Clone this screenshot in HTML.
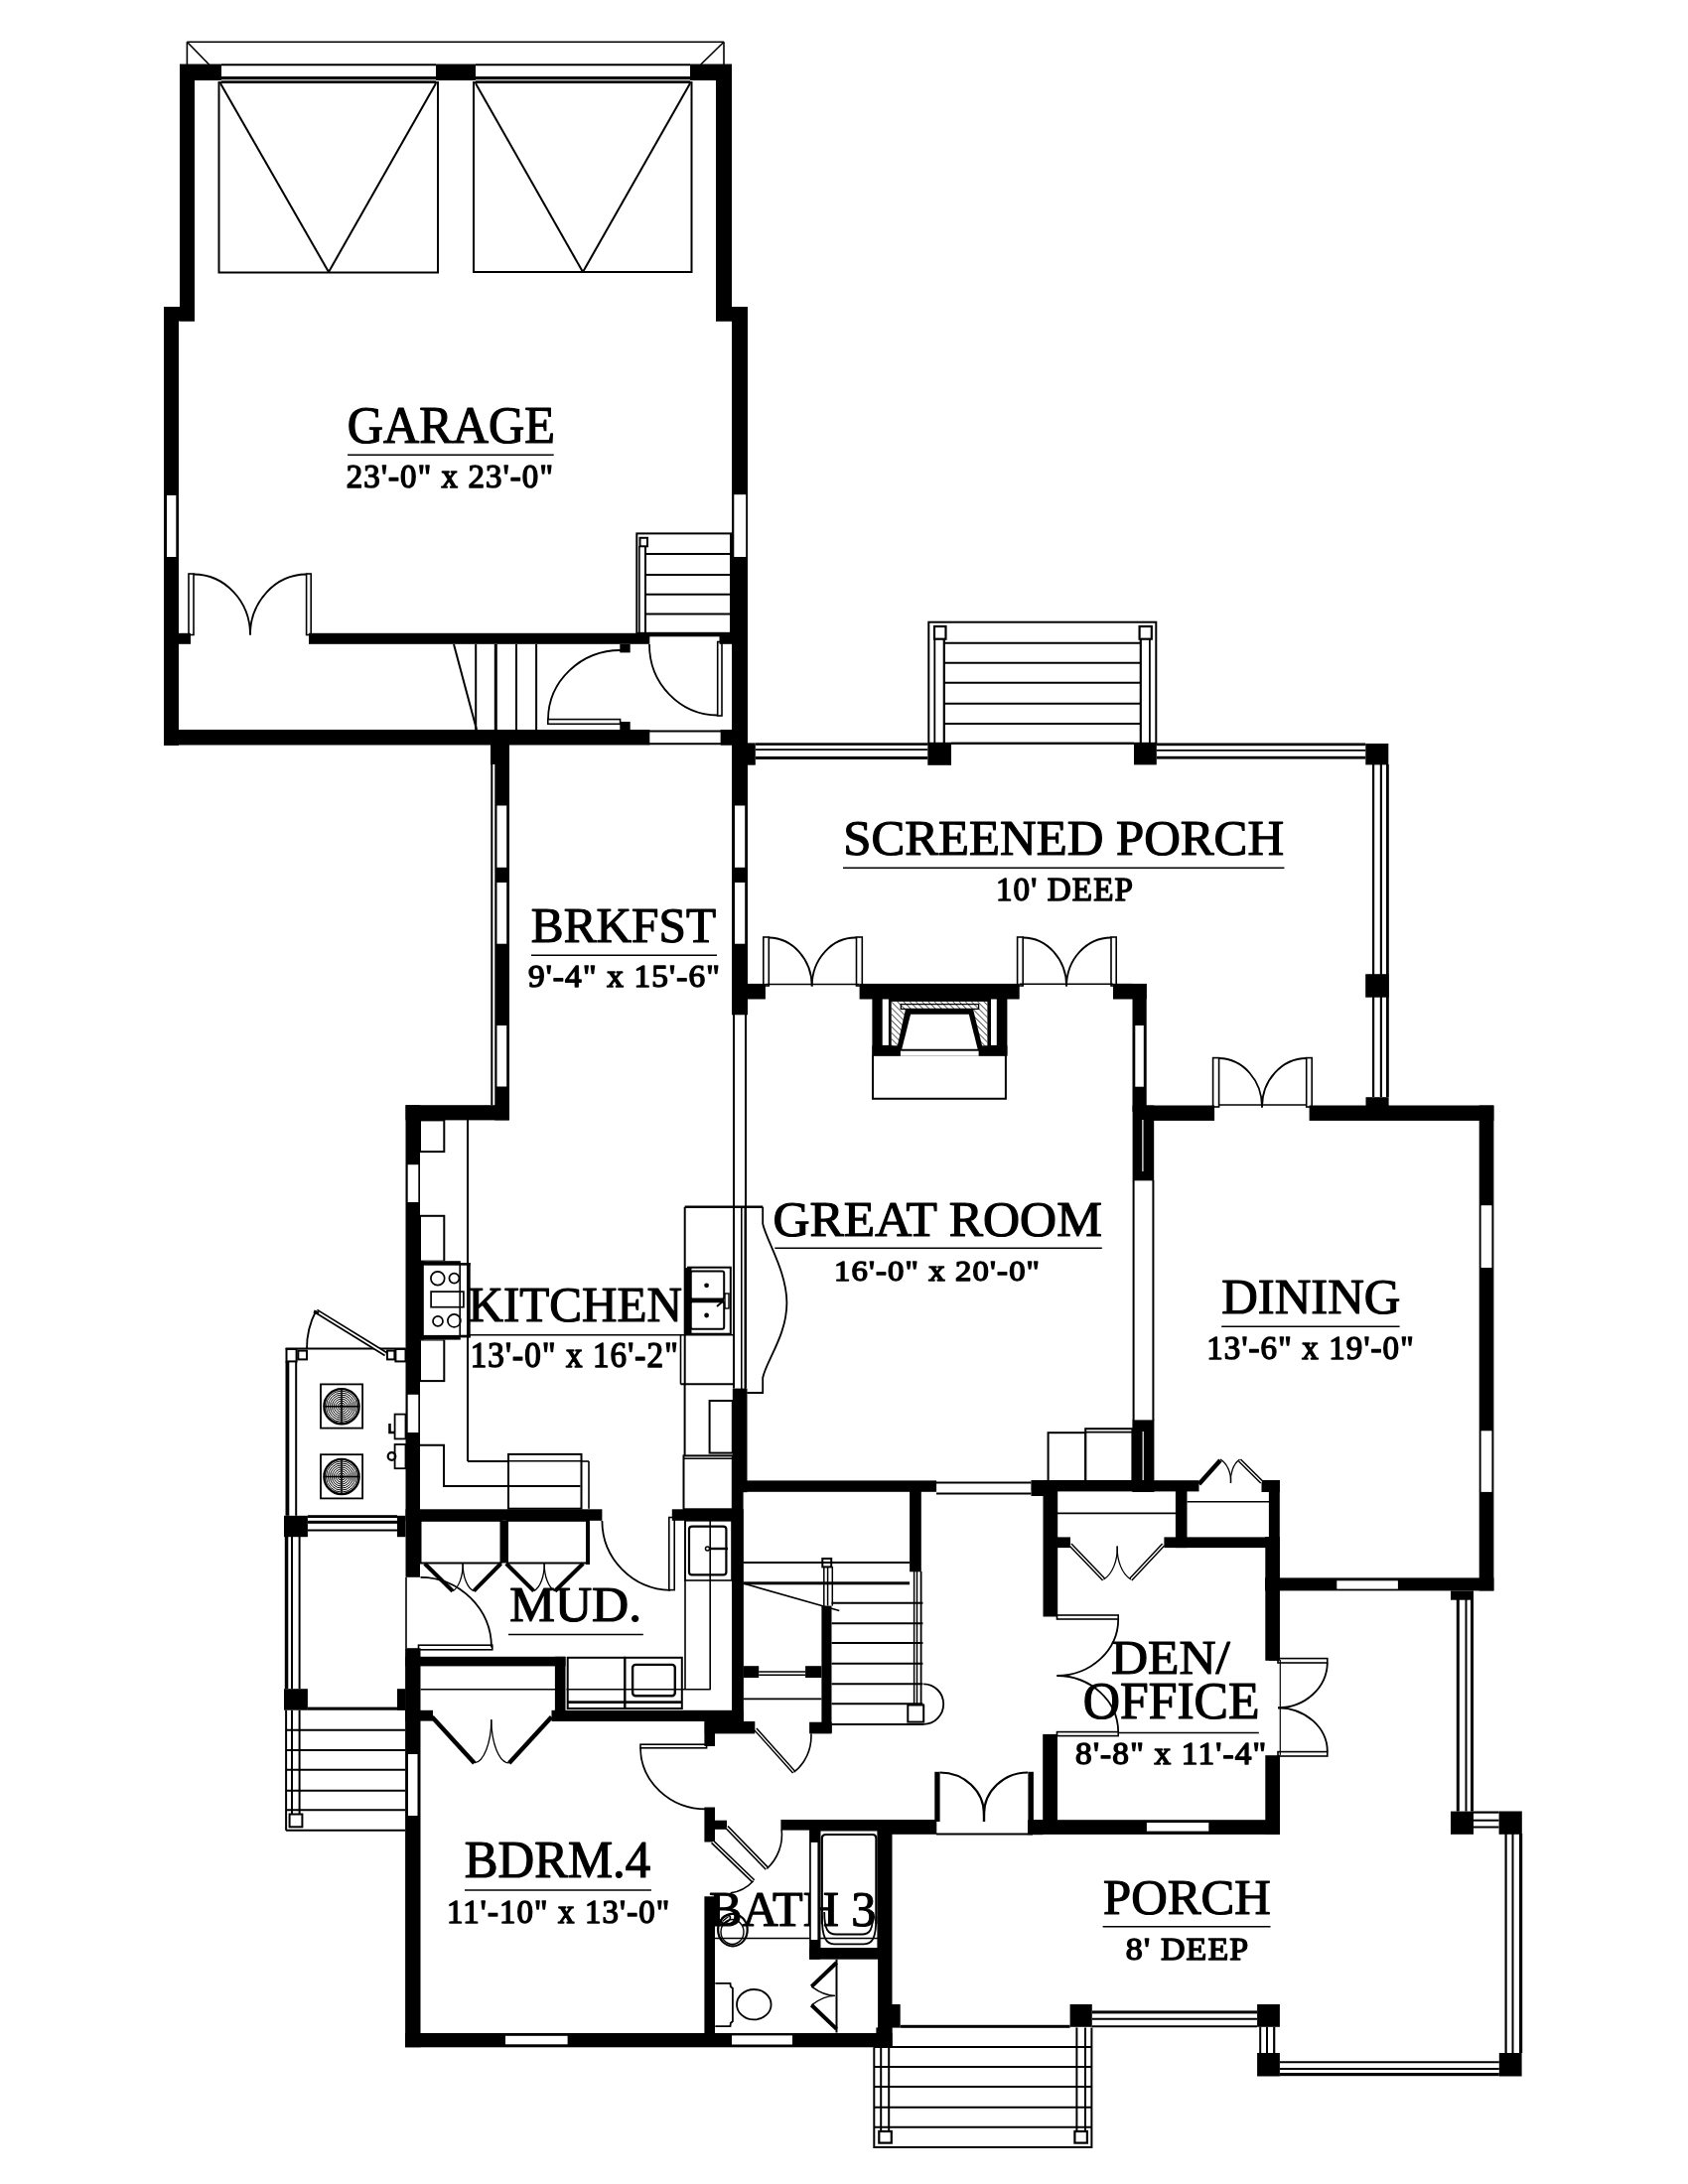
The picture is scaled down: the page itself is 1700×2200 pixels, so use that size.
<!DOCTYPE html>
<html><head><meta charset="utf-8"><title>Floor Plan</title>
<style>html,body{margin:0;padding:0;background:#fff;}svg{display:block;will-change:transform;}
text{font-family:"Liberation Serif",serif;fill:#000;}</style></head>
<body><svg width="1700" height="2200" viewBox="0 0 1700 2200" shape-rendering="auto">
<rect x="0" y="0" width="1700" height="2200" fill="#fff"/>
<line x1="188.4" y1="42.3" x2="729.0" y2="42.3" stroke="#000" stroke-width="1.6"/>
<line x1="188.4" y1="42.3" x2="188.4" y2="65.0" stroke="#000" stroke-width="1.6"/>
<line x1="729.0" y1="42.3" x2="729.0" y2="65.0" stroke="#000" stroke-width="1.6"/>
<line x1="188.4" y1="42.3" x2="210.6" y2="65.0" stroke="#000" stroke-width="1.6"/>
<line x1="729.0" y1="42.3" x2="705.7" y2="65.0" stroke="#000" stroke-width="1.6"/>
<line x1="223.0" y1="65.2" x2="439.0" y2="65.2" stroke="#000" stroke-width="2.0"/>
<line x1="479.0" y1="65.2" x2="695.0" y2="65.2" stroke="#000" stroke-width="2.0"/>
<rect x="223.0" y="77.0" width="216.0" height="3.2" fill="#000"/>
<rect x="223.0" y="81.3" width="216.0" height="2.7" fill="#000"/>
<rect x="479.0" y="77.0" width="216.0" height="3.2" fill="#000"/>
<rect x="479.0" y="81.3" width="216.0" height="2.7" fill="#000"/>
<rect x="181.0" y="64.5" width="42.0" height="16.5" fill="#000"/>
<rect x="695.0" y="64.5" width="42.0" height="16.5" fill="#000"/>
<rect x="439.0" y="64.5" width="40.0" height="16.5" fill="#000"/>
<rect x="220.5" y="83.0" width="220.5" height="191.5" rx="0" fill="none" stroke="#000" stroke-width="2"/>
<line x1="222.0" y1="84.0" x2="331.0" y2="274.0" stroke="#000" stroke-width="2"/>
<line x1="331.0" y1="274.0" x2="439.0" y2="84.0" stroke="#000" stroke-width="2"/>
<rect x="477.0" y="83.0" width="219.5" height="191.0" rx="0" fill="none" stroke="#000" stroke-width="2"/>
<line x1="479.0" y1="84.0" x2="587.0" y2="274.0" stroke="#000" stroke-width="2"/>
<line x1="587.0" y1="274.0" x2="695.0" y2="84.0" stroke="#000" stroke-width="2"/>
<rect x="181.0" y="65.0" width="15.0" height="258.5" fill="#000"/>
<rect x="165.0" y="309.0" width="31.0" height="14.5" fill="#000"/>
<rect x="165.0" y="309.0" width="15.0" height="442.0" fill="#000"/>
<rect x="168.0" y="499.0" width="9.3" height="62.0" fill="#fff"/>
<rect x="721.0" y="65.0" width="16.0" height="258.5" fill="#000"/>
<rect x="721.0" y="309.0" width="32.0" height="14.5" fill="#000"/>
<rect x="737.0" y="309.0" width="16.0" height="713.3" fill="#000"/>
<rect x="739.3" y="498.2" width="11.9" height="62.8" fill="#fff"/>
<rect x="165.0" y="735.0" width="489.3" height="15.5" fill="#000"/>
<line x1="654.0" y1="736.5" x2="726.0" y2="736.5" stroke="#000" stroke-width="2"/>
<line x1="654.0" y1="749.3" x2="726.0" y2="749.3" stroke="#000" stroke-width="2"/>
<rect x="725.8" y="735.0" width="11.7" height="15.5" fill="#000"/>
<rect x="180.0" y="637.8" width="12.0" height="11.0" fill="#000"/>
<rect x="311.0" y="637.8" width="343.3" height="11.0" fill="#000"/>
<rect x="654.0" y="637.8" width="72.0" height="3.5" fill="#000"/>
<rect x="724.5" y="637.8" width="12.5" height="11.0" fill="#000"/>
<rect x="190.0" y="578.0" width="5.0" height="61.5" rx="0" fill="none" stroke="#000" stroke-width="1.6"/>
<rect x="308.6" y="578.0" width="4.6" height="61.5" rx="0" fill="none" stroke="#000" stroke-width="1.6"/>
<path d="M195.0,578.5 A57.0,61.0 0 0 1 252.0,639.5" fill="none" stroke="#000" stroke-width="1.8"/>
<path d="M308.6,578.5 A57.0,61.0 0 0 0 252.0,639.5" fill="none" stroke="#000" stroke-width="1.8"/>
<rect x="641.3" y="537.4" width="94.7" height="100.4" rx="0" fill="none" stroke="#000" stroke-width="2"/>
<line x1="650.0" y1="557.9" x2="736.0" y2="557.9" stroke="#000" stroke-width="2"/>
<line x1="650.0" y1="579.1" x2="736.0" y2="579.1" stroke="#000" stroke-width="2"/>
<line x1="650.0" y1="598.7" x2="736.0" y2="598.7" stroke="#000" stroke-width="2"/>
<line x1="650.0" y1="618.6" x2="736.0" y2="618.6" stroke="#000" stroke-width="2"/>
<line x1="643.9" y1="550.0" x2="643.9" y2="637.8" stroke="#000" stroke-width="1.6"/>
<line x1="650.0" y1="550.0" x2="650.0" y2="637.8" stroke="#000" stroke-width="2"/>
<rect x="644.5" y="541.8" width="7.5" height="8.5" rx="0" fill="none" stroke="#000" stroke-width="2"/>
<line x1="479.2" y1="649.0" x2="479.2" y2="735.0" stroke="#000" stroke-width="2"/>
<line x1="520.0" y1="649.0" x2="520.0" y2="735.0" stroke="#000" stroke-width="2"/>
<line x1="540.1" y1="649.0" x2="540.1" y2="735.0" stroke="#000" stroke-width="2"/>
<line x1="499.3" y1="649.0" x2="499.3" y2="735.0" stroke="#000" stroke-width="3"/>
<line x1="457.0" y1="649.0" x2="480.0" y2="735.0" stroke="#000" stroke-width="2"/>
<rect x="624.3" y="648.8" width="10.4" height="8.6" fill="#000"/>
<rect x="624.3" y="727.0" width="10.4" height="8.0" fill="#000"/>
<rect x="551.8" y="724.6" width="72.8" height="4.7" rx="0" fill="none" stroke="#000" stroke-width="1.6"/>
<path d="M552.0,724.6 A73.0,70.0 0 0 1 625.0,655.0" fill="none" stroke="#000" stroke-width="1.8"/>
<rect x="722.7" y="646.5" width="4.3" height="74.5" rx="0" fill="none" stroke="#000" stroke-width="1.6"/>
<path d="M654.0,649.0 A69.0,71.0 0 0 0 722.7,720.5" fill="none" stroke="#000" stroke-width="1.8"/>
<rect x="494.0" y="750.0" width="19.0" height="20.0" fill="#000"/>
<rect x="498.3" y="750.0" width="14.7" height="378.4" fill="#000"/>
<line x1="495.3" y1="770.0" x2="495.3" y2="1113.2" stroke="#000" stroke-width="2"/>
<rect x="500.5" y="811.5" width="9.7" height="62.3" fill="#fff"/>
<rect x="500.5" y="889.0" width="9.7" height="61.7" fill="#fff"/>
<rect x="500.5" y="1033.0" width="9.7" height="61.5" fill="#fff"/>
<rect x="740.0" y="811.5" width="10.2" height="62.3" fill="#fff"/>
<rect x="740.0" y="889.0" width="10.2" height="61.7" fill="#fff"/>
<line x1="739.0" y1="1022.0" x2="739.0" y2="1398.6" stroke="#000" stroke-width="2"/>
<line x1="751.0" y1="1022.0" x2="751.0" y2="1398.6" stroke="#000" stroke-width="2"/>
<rect x="752.8" y="990.9" width="18.1" height="15.6" fill="#000"/>
<rect x="725.8" y="735.0" width="11.7" height="15.5" fill="#000"/>
<rect x="752.8" y="748.4" width="8.0" height="22.3" fill="#000"/>
<rect x="761.0" y="748.3" width="173.3" height="2.6" fill="#000"/>
<line x1="761.0" y1="755.2" x2="934.3" y2="755.2" stroke="#000" stroke-width="1.8"/>
<rect x="761.0" y="762.0" width="173.3" height="3.0" fill="#000"/>
<rect x="934.3" y="748.4" width="23.7" height="22.4" fill="#000"/>
<rect x="1142.0" y="749.0" width="22.8" height="21.4" fill="#000"/>
<rect x="1164.8" y="748.5" width="210.5" height="2.7" fill="#000"/>
<line x1="1164.8" y1="755.8" x2="1375.3" y2="755.8" stroke="#000" stroke-width="1.8"/>
<rect x="1164.8" y="761.8" width="210.5" height="2.8" fill="#000"/>
<rect x="1375.3" y="749.0" width="23.0" height="21.4" fill="#000"/>
<line x1="1383.1" y1="770.0" x2="1383.1" y2="1105.0" stroke="#000" stroke-width="2.2"/>
<line x1="1390.9" y1="770.0" x2="1390.9" y2="1105.0" stroke="#000" stroke-width="2.2"/>
<rect x="1396.0" y="770.0" width="2.8" height="335.0" fill="#000"/>
<rect x="1375.2" y="981.2" width="23.4" height="23.5" fill="#000"/>
<rect x="1375.5" y="1105.2" width="23.1" height="8.8" fill="#000"/>
<rect x="935.3" y="626.7" width="229.0" height="122.1" rx="0" fill="none" stroke="#000" stroke-width="2"/>
<line x1="950.8" y1="647.8" x2="1148.8" y2="647.8" stroke="#000" stroke-width="2"/>
<line x1="950.8" y1="667.8" x2="1148.8" y2="667.8" stroke="#000" stroke-width="2"/>
<line x1="950.8" y1="687.8" x2="1148.8" y2="687.8" stroke="#000" stroke-width="2"/>
<line x1="950.8" y1="708.8" x2="1148.8" y2="708.8" stroke="#000" stroke-width="2"/>
<line x1="950.8" y1="728.9" x2="1148.8" y2="728.9" stroke="#000" stroke-width="2"/>
<line x1="941.3" y1="644.0" x2="941.3" y2="748.8" stroke="#000" stroke-width="1.8"/>
<line x1="950.8" y1="644.0" x2="950.8" y2="748.8" stroke="#000" stroke-width="2.2"/>
<line x1="1148.8" y1="644.0" x2="1148.8" y2="748.8" stroke="#000" stroke-width="2.2"/>
<line x1="1157.9" y1="644.0" x2="1157.9" y2="748.8" stroke="#000" stroke-width="1.8"/>
<rect x="941.0" y="631.0" width="11.5" height="12.7" rx="0" fill="none" stroke="#000" stroke-width="2.2"/>
<rect x="1147.6" y="631.0" width="12.2" height="12.7" rx="0" fill="none" stroke="#000" stroke-width="2.2"/>
<line x1="958.0" y1="748.8" x2="1142.0" y2="748.8" stroke="#000" stroke-width="2"/>
<rect x="865.6" y="990.9" width="161.1" height="15.6" fill="#000"/>
<rect x="1121.0" y="990.9" width="19.5" height="12.1" fill="#000"/>
<rect x="1121.0" y="990.9" width="33.7" height="15.6" fill="#000"/>
<line x1="770.9" y1="991.6" x2="865.6" y2="991.6" stroke="#000" stroke-width="1.5"/>
<line x1="1026.7" y1="991.2" x2="1121.0" y2="991.2" stroke="#000" stroke-width="1.5"/>
<rect x="768.8" y="944.0" width="5.5" height="49.0" rx="0" fill="none" stroke="#000" stroke-width="1.6"/>
<rect x="862.5" y="944.0" width="5.8" height="49.0" rx="0" fill="none" stroke="#000" stroke-width="1.6"/>
<path d="M774.3,944.5 A44.0,49.0 0 0 1 817.7,993.5" fill="none" stroke="#000" stroke-width="1.8"/>
<path d="M862.5,944.5 A44.0,49.0 0 0 0 817.7,993.5" fill="none" stroke="#000" stroke-width="1.8"/>
<rect x="1024.6" y="944.0" width="5.6" height="49.0" rx="0" fill="none" stroke="#000" stroke-width="1.6"/>
<rect x="1119.0" y="944.0" width="5.2" height="49.0" rx="0" fill="none" stroke="#000" stroke-width="1.6"/>
<path d="M1030.2,944.5 A44.0,49.0 0 0 1 1074.1,993.5" fill="none" stroke="#000" stroke-width="1.8"/>
<path d="M1119.0,944.5 A45.0,49.0 0 0 0 1074.1,993.5" fill="none" stroke="#000" stroke-width="1.8"/>
<rect x="878.4" y="1006.0" width="136.0" height="57.6" fill="#000"/>
<rect x="888.7" y="1006.5" width="6.2" height="46.4" fill="#fff"/>
<rect x="998.0" y="1006.5" width="5.8" height="46.4" fill="#fff"/>
<rect x="897.7" y="1008.9" width="96.7" height="47.1" fill="#fff"/>
<defs><pattern id="hatch" patternUnits="userSpaceOnUse" width="4.4" height="4.4" patternTransform="rotate(-45)"><line x1="0" y1="0" x2="0" y2="4.4" stroke="#000" stroke-width="1.2"/></pattern></defs>
<rect x="897.7" y="1008.9" width="96.7" height="47.1" fill="url(#hatch)"/>
<rect x="907.3" y="1011.6" width="78.3" height="4.8" fill="none" stroke="#000" stroke-width="1.3"/>
<polygon points="903,1057 912,1016.5 980,1016.5 990,1057" fill="#000"/>
<polygon points="908.2,1057 917.1,1021.8 975.8,1021.8 984.7,1057" fill="#fff"/>
<line x1="906.0" y1="1057.8" x2="986.0" y2="1057.8" stroke="#000" stroke-width="2.2"/>
<rect x="878.4" y="1053.3" width="28.5" height="10.3" fill="#000"/>
<rect x="985.6" y="1053.3" width="28.8" height="10.3" fill="#000"/>
<rect x="906.9" y="1058.7" width="78.7" height="4.9" fill="#fff"/>
<path d="M879,1063 L879,1106.8 L1012.9,1106.8 L1012.9,1063" fill="none" stroke="#000" stroke-width="2"/>
<rect x="1140.5" y="991.0" width="14.2" height="129.0" fill="#000"/>
<rect x="1143.3" y="1033.0" width="8.5" height="61.7" fill="#fff"/>
<rect x="1140.6" y="1113.5" width="21.6" height="75.8" fill="#000"/>
<line x1="1150.9" y1="1128.0" x2="1150.9" y2="1180.0" stroke="#000" stroke-width="1.2"/>
<line x1="1150.9" y1="1128" x2="1150.9" y2="1180" stroke="#fff" stroke-width="1.2"/>
<line x1="1141.6" y1="1189.0" x2="1141.6" y2="1431.0" stroke="#000" stroke-width="2"/>
<line x1="1161.4" y1="1189.0" x2="1161.4" y2="1431.0" stroke="#000" stroke-width="2"/>
<rect x="1140.4" y="1430.4" width="22.0" height="72.6" fill="#000"/>
<line x1="1151.2" y1="1442" x2="1151.2" y2="1491" stroke="#fff" stroke-width="1.2"/>
<rect x="1055.6" y="1443.2" width="37.6" height="48.8" rx="0" fill="none" stroke="#000" stroke-width="2"/>
<rect x="1093.2" y="1439.2" width="47.2" height="52.8" rx="0" fill="none" stroke="#000" stroke-width="2"/>
<line x1="1093.2" y1="1442.6" x2="1140.4" y2="1442.6" stroke="#000" stroke-width="1.6"/>
<rect x="752.0" y="1491.4" width="191.1" height="11.4" fill="#000"/>
<line x1="943.0" y1="1493.5" x2="1038.5" y2="1493.5" stroke="#000" stroke-width="2"/>
<line x1="943.0" y1="1504.6" x2="1038.5" y2="1504.6" stroke="#000" stroke-width="2"/>
<rect x="1038.5" y="1491.2" width="23.5" height="15.8" fill="#000"/>
<rect x="1038.8" y="1491.2" width="168.7" height="11.2" fill="#000"/>
<rect x="737.8" y="1398.6" width="14.7" height="104.6" fill="#000"/>
<rect x="737.8" y="1490.0" width="10.8" height="245.0" fill="#000"/>
<rect x="1153.0" y="1113.5" width="70.1" height="15.4" fill="#000"/>
<rect x="1318.6" y="1113.5" width="185.8" height="15.4" fill="#000"/>
<rect x="1221.6" y="1065.6" width="6.0" height="49.4" rx="0" fill="none" stroke="#000" stroke-width="1.6"/>
<rect x="1315.7" y="1065.6" width="5.5" height="49.4" rx="0" fill="none" stroke="#000" stroke-width="1.6"/>
<line x1="1227.6" y1="1112.9" x2="1315.7" y2="1112.9" stroke="#000" stroke-width="1.5"/>
<path d="M1227.6,1066.0 A44.0,49.0 0 0 1 1271.0,1115.4" fill="none" stroke="#000" stroke-width="1.8"/>
<path d="M1315.7,1066.0 A45.0,49.0 0 0 0 1271.0,1115.4" fill="none" stroke="#000" stroke-width="1.8"/>
<rect x="1489.7" y="1113.5" width="14.7" height="488.9" fill="#000"/>
<rect x="1491.6" y="1214.2" width="10.8" height="62.8" fill="#fff"/>
<rect x="1491.6" y="1441.3" width="10.8" height="61.6" fill="#fff"/>
<rect x="1274.0" y="1589.4" width="230.4" height="13.0" fill="#000"/>
<rect x="1346.3" y="1592.3" width="61.6" height="8.3" fill="#fff"/>
<rect x="1270.5" y="1491.0" width="18.3" height="12.0" fill="#000"/>
<rect x="1277.9" y="1491.0" width="10.9" height="181.8" fill="#000"/>
<rect x="1274.3" y="1548.0" width="14.5" height="124.8" fill="#000"/>
<line x1="1195.5" y1="1512.8" x2="1278.0" y2="1512.8" stroke="#000" stroke-width="1.6"/>
<rect x="1183.9" y="1502.0" width="11.6" height="57.1" fill="#000"/>
<rect x="1172.4" y="1548.4" width="115.9" height="10.7" fill="#000"/>
<line x1="1207.5" y1="1495.0" x2="1229.0" y2="1471.0" stroke="#000" stroke-width="4.5"/>
<line x1="1248.5" y1="1471.0" x2="1270.7" y2="1493.0" stroke="#000" stroke-width="4.2"/>
<line x1="1248.5" y1="1471.0" x2="1270.7" y2="1493.0" stroke="#fff" stroke-width="1.3"/>
<path d="M1229.0,1470.0 A18.0,24.0 0 0 1 1239.5,1494.0" fill="none" stroke="#000" stroke-width="1.3"/>
<path d="M1248.5,1470.0 A18.0,24.0 0 0 0 1239.5,1494.0" fill="none" stroke="#000" stroke-width="1.3"/>
<rect x="1050.5" y="1491.0" width="14.7" height="137.5" fill="#000"/>
<line x1="1065.0" y1="1524.4" x2="1184.0" y2="1524.4" stroke="#000" stroke-width="1.6"/>
<rect x="1062.0" y="1548.4" width="16.0" height="10.7" fill="#000"/>
<line x1="1078.0" y1="1556.0" x2="1111.6" y2="1591.0" stroke="#000" stroke-width="4.2"/>
<line x1="1078.0" y1="1556.0" x2="1111.6" y2="1591.0" stroke="#fff" stroke-width="1.3"/>
<line x1="1138.8" y1="1591.0" x2="1171.6" y2="1556.0" stroke="#000" stroke-width="4.2"/>
<line x1="1138.8" y1="1591.0" x2="1171.6" y2="1556.0" stroke="#fff" stroke-width="1.3"/>
<path d="M1111.6,1591.0 A22.0,34.0 0 0 0 1125.2,1557.5" fill="none" stroke="#000" stroke-width="1.3"/>
<path d="M1138.8,1591.0 A22.0,34.0 0 0 1 1125.2,1557.5" fill="none" stroke="#000" stroke-width="1.3"/>
<rect x="1064.5" y="1627.0" width="61.7" height="4.0" rx="0" fill="none" stroke="#000" stroke-width="1.6"/>
<rect x="1064.5" y="1744.6" width="61.7" height="4.0" rx="0" fill="none" stroke="#000" stroke-width="1.6"/>
<path d="M1126.2,1631.0 A62.0,57.0 0 0 1 1064.5,1688.0" fill="none" stroke="#000" stroke-width="1.8"/>
<path d="M1126.2,1744.6 A62.0,57.0 0 0 0 1064.5,1688.0" fill="none" stroke="#000" stroke-width="1.8"/>
<rect x="1050.2" y="1746.9" width="14.8" height="100.1" fill="#000"/>
<rect x="1274.3" y="1768.2" width="14.7" height="79.6" fill="#000"/>
<rect x="1287.0" y="1670.6" width="49.8" height="4.4" rx="0" fill="none" stroke="#000" stroke-width="1.6"/>
<rect x="1287.0" y="1764.6" width="49.8" height="4.4" rx="0" fill="none" stroke="#000" stroke-width="1.6"/>
<path d="M1336.8,1675.0 A50.0,46.0 0 0 1 1287.0,1720.3" fill="none" stroke="#000" stroke-width="1.8"/>
<path d="M1336.8,1764.6 A50.0,44.0 0 0 0 1287.0,1720.3" fill="none" stroke="#000" stroke-width="1.8"/>
<line x1="1289.3" y1="1672.0" x2="1289.3" y2="1768.0" stroke="#000" stroke-width="1.2"/>
<rect x="1038.3" y="1833.2" width="250.7" height="14.7" fill="#000"/>
<rect x="1154.9" y="1836.0" width="62.4" height="8.6" fill="#fff"/>
<rect x="786.4" y="1833.0" width="97.6" height="10.6" fill="#000"/>
<rect x="884.0" y="1833.0" width="59.3" height="14.8" fill="#000"/>
<rect x="941.3" y="1784.8" width="5.3" height="50.2" fill="#000"/>
<rect x="1035.4" y="1784.8" width="5.5" height="50.2" fill="#000"/>
<path d="M946.6,1785.5 A44.4,42.0 0 0 1 991.0,1827.5" fill="none" stroke="#000" stroke-width="2.2"/>
<line x1="991.0" y1="1827.0" x2="991.0" y2="1835.0" stroke="#000" stroke-width="2.4"/>
<path d="M1035.2,1785.5 A44.2,42.0 0 0 0 991.0,1827.5" fill="none" stroke="#000" stroke-width="2.2"/>
<line x1="943.0" y1="1847.6" x2="1040.0" y2="1847.6" stroke="#000" stroke-width="2"/>
<rect x="1035.0" y="1833.4" width="15.6" height="14.8" fill="#000"/>
<rect x="916.1" y="1502.0" width="11.7" height="81.3" fill="#000"/>
<rect x="827.4" y="1617.6" width="10.1" height="128.0" fill="#000"/>
<line x1="748.6" y1="1574.1" x2="916.1" y2="1574.1" stroke="#000" stroke-width="2"/>
<rect x="748.6" y="1593.3" width="167.5" height="3.0" fill="#000"/>
<line x1="837.5" y1="1614.7" x2="929.4" y2="1614.7" stroke="#000" stroke-width="2"/>
<line x1="837.5" y1="1635.2" x2="929.4" y2="1635.2" stroke="#000" stroke-width="2"/>
<line x1="837.5" y1="1655.1" x2="929.4" y2="1655.1" stroke="#000" stroke-width="2"/>
<line x1="837.5" y1="1675.7" x2="929.4" y2="1675.7" stroke="#000" stroke-width="2"/>
<line x1="837.5" y1="1696.2" x2="929.4" y2="1696.2" stroke="#000" stroke-width="2"/>
<line x1="837.5" y1="1716.3" x2="929.4" y2="1716.3" stroke="#000" stroke-width="2"/>
<line x1="837.5" y1="1736.9" x2="930.4" y2="1736.9" stroke="#000" stroke-width="2"/>
<rect x="828.3" y="1570.0" width="8.9" height="8.4" rx="0" fill="none" stroke="#000" stroke-width="2"/>
<line x1="829.8" y1="1578.0" x2="829.8" y2="1617.6" stroke="#000" stroke-width="1.5"/>
<line x1="833.6" y1="1578.0" x2="833.6" y2="1617.6" stroke="#000" stroke-width="1.5"/>
<line x1="838.3" y1="1578.0" x2="838.3" y2="1617.6" stroke="#000" stroke-width="1.5"/>
<line x1="748.6" y1="1595.0" x2="845.3" y2="1622.4" stroke="#000" stroke-width="1.6"/>
<line x1="920.6" y1="1583.0" x2="920.6" y2="1717.0" stroke="#000" stroke-width="1.5"/>
<line x1="923.5" y1="1583.0" x2="923.5" y2="1717.0" stroke="#000" stroke-width="1.5"/>
<line x1="927.6" y1="1583.0" x2="927.6" y2="1717.0" stroke="#000" stroke-width="1.8"/>
<rect x="914.3" y="1717.5" width="15.9" height="17.1" rx="0" fill="none" stroke="#000" stroke-width="2"/>
<path d="M930.2,1696.3 A20,20.3 0 0 1 930.2,1736.9" fill="none" stroke="#000" stroke-width="1.8"/>
<rect x="748.6" y="1678.2" width="15.6" height="11.8" fill="#000"/>
<rect x="811.1" y="1678.2" width="16.3" height="11.8" fill="#000"/>
<line x1="764.2" y1="1684.0" x2="811.1" y2="1684.0" stroke="#000" stroke-width="1.5"/>
<line x1="764.2" y1="1687.3" x2="811.1" y2="1687.3" stroke="#000" stroke-width="1.5"/>
<line x1="748.6" y1="1711.4" x2="827.4" y2="1711.4" stroke="#000" stroke-width="1.6"/>
<rect x="815.6" y="1734.9" width="21.9" height="10.7" fill="#000"/>
<rect x="815.2" y="1734.8" width="22.3" height="11.6" fill="#000"/>
<rect x="709.8" y="1734.0" width="50.5" height="12.4" fill="#000"/>
<rect x="555.5" y="1722.8" width="193.1" height="11.2" fill="#000"/>
<line x1="760.9" y1="1742.0" x2="799.6" y2="1785.1" stroke="#000" stroke-width="4.2"/>
<line x1="760.9" y1="1742.0" x2="799.6" y2="1785.1" stroke="#fff" stroke-width="1.3"/>
<path d="M799.6,1785.1 A40.0,44.0 0 0 0 816.9,1746.4" fill="none" stroke="#000" stroke-width="1.6"/>
<rect x="408.5" y="1113.2" width="104.1" height="15.2" fill="#000"/>
<rect x="408.5" y="1113.2" width="14.5" height="475.6" fill="#000"/>
<rect x="410.7" y="1173.2" width="10.6" height="37.8" fill="#fff"/>
<rect x="410.7" y="1404.8" width="10.6" height="38.2" fill="#fff"/>
<line x1="471.0" y1="1128.0" x2="471.0" y2="1472.1" stroke="#000" stroke-width="2"/>
<line x1="471.0" y1="1472.1" x2="512.0" y2="1472.1" stroke="#000" stroke-width="2"/>
<rect x="423.0" y="1128.4" width="24.3" height="31.7" rx="0" fill="none" stroke="#000" stroke-width="2"/>
<rect x="423.0" y="1224.8" width="24.3" height="45.8" rx="0" fill="none" stroke="#000" stroke-width="2"/>
<rect x="423.0" y="1349.5" width="24.3" height="41.6" rx="0" fill="none" stroke="#000" stroke-width="2"/>
<path d="M423,1455.7 L447,1455.7 L447,1496.9 L584.5,1496.9" fill="none" stroke="#000" stroke-width="2"/>
<rect x="423.0" y="1270.2" width="47.0" height="79.4" fill="#fff"/>
<rect x="423.0" y="1270.2" width="40.8" height="4.5" fill="#000"/>
<rect x="423.0" y="1344.9" width="40.8" height="4.7" fill="#000"/>
<rect x="423.0" y="1270.2" width="3.8" height="79.4" fill="#000"/>
<line x1="463.2" y1="1272.0" x2="463.2" y2="1347.0" stroke="#000" stroke-width="1.6"/>
<rect x="463.8" y="1272.1" width="9.9" height="2.6" fill="#000"/>
<rect x="463.8" y="1344.7" width="9.9" height="2.7" fill="#000"/>
<rect x="471.0" y="1272.1" width="2.7" height="75.3" fill="#000"/>
<circle cx="440.8" cy="1287.8" r="6.9" fill="none" stroke="#000" stroke-width="1.7" />
<circle cx="457.4" cy="1287.6" r="5.0" fill="none" stroke="#000" stroke-width="1.7" />
<circle cx="441.0" cy="1330.9" r="5.0" fill="none" stroke="#000" stroke-width="1.7" />
<circle cx="457.4" cy="1330.4" r="6.5" fill="none" stroke="#000" stroke-width="1.7" />
<rect x="434.1" y="1301.1" width="32.8" height="15.6" rx="0" fill="none" stroke="#000" stroke-width="1.7"/>
<rect x="512.0" y="1464.9" width="73.5" height="54.8" rx="0" fill="none" stroke="#000" stroke-width="2"/>
<line x1="512.0" y1="1471.7" x2="585.5" y2="1471.7" stroke="#000" stroke-width="1.6"/>
<line x1="593.0" y1="1472.0" x2="593.0" y2="1519.7" stroke="#000" stroke-width="1.6"/>
<line x1="585.5" y1="1472.0" x2="593.0" y2="1472.0" stroke="#000" stroke-width="1.6"/>
<rect x="408.5" y="1520.3" width="197.9" height="11.5" fill="#000"/>
<rect x="676.8" y="1520.3" width="61.0" height="11.5" fill="#000"/>
<line x1="689.7" y1="1215.8" x2="768.2" y2="1215.8" stroke="#000" stroke-width="2.4"/>
<line x1="689.7" y1="1215.8" x2="689.7" y2="1394.3" stroke="#000" stroke-width="2"/>
<line x1="746.8" y1="1216.0" x2="746.8" y2="1403.0" stroke="#000" stroke-width="1.6"/>
<line x1="750.3" y1="1216.0" x2="750.3" y2="1403.0" stroke="#000" stroke-width="1.6"/>
<path d="M768.2,1215.8 L768.2,1232.7 C772,1250 792,1280 792.4,1311.9 C792.5,1345 772,1370 768.2,1387.7 L768.2,1403 L752.3,1403" fill="none" stroke="#000" stroke-width="1.8"/>
<line x1="472.5" y1="1344.8" x2="738.6" y2="1344.8" stroke="#000" stroke-width="1.6"/>
<line x1="685.5" y1="1344.8" x2="685.5" y2="1394.3" stroke="#000" stroke-width="1.6"/>
<line x1="685.5" y1="1394.3" x2="738.6" y2="1394.3" stroke="#000" stroke-width="2"/>
<rect x="693.0" y="1276.7" width="42.8" height="67.0" rx="0" fill="#fff" stroke="#000" stroke-width="2"/>
<rect x="695.5" y="1280.5" width="33.7" height="28.1" rx="2" fill="none" stroke="#000" stroke-width="2"/>
<rect x="695.5" y="1311.3" width="33.7" height="27.5" rx="2" fill="none" stroke="#000" stroke-width="2"/>
<rect x="689.0" y="1277.0" width="7.5" height="67.5" fill="#000"/>
<rect x="695.0" y="1308.5" width="34.2" height="2.8" fill="#000"/>
<circle cx="711.6" cy="1294.8" r="2.4" fill="#000" stroke="#000" stroke-width="0" />
<circle cx="711.6" cy="1325.0" r="2.4" fill="#000" stroke="#000" stroke-width="0" />
<rect x="730.0" y="1303.0" width="4.0" height="15.0" rx="0" fill="none" stroke="#000" stroke-width="1.4"/>
<line x1="722.0" y1="1316.0" x2="729.0" y2="1310.0" stroke="#000" stroke-width="2"/>
<line x1="689.6" y1="1394.3" x2="689.6" y2="1466.4" stroke="#000" stroke-width="2"/>
<rect x="714.6" y="1411.0" width="23.2" height="52.6" rx="0" fill="none" stroke="#000" stroke-width="2"/>
<rect x="688.5" y="1466.4" width="49.3" height="53.9" rx="0" fill="none" stroke="#000" stroke-width="2"/>
<line x1="688.5" y1="1469.3" x2="737.8" y2="1469.3" stroke="#000" stroke-width="1.5"/>
<rect x="423.5" y="1531.8" width="81.0" height="42.7" rx="0" fill="none" stroke="#000" stroke-width="2"/>
<rect x="511.0" y="1531.8" width="82.0" height="42.7" rx="0" fill="none" stroke="#000" stroke-width="2"/>
<rect x="504.5" y="1531.8" width="6.5" height="42.7" fill="#000"/>
<rect x="590.0" y="1531.8" width="4.0" height="44.2" fill="#000"/>
<line x1="427.7" y1="1575.0" x2="455.9" y2="1602.7" stroke="#000" stroke-width="4"/>
<line x1="477.2" y1="1602.7" x2="504.5" y2="1575.0" stroke="#000" stroke-width="4"/>
<path d="M455.9,1602.7 A14.0,28.0 0 0 0 466.1,1575.0" fill="none" stroke="#000" stroke-width="1.3"/>
<path d="M477.2,1602.7 A14.0,28.0 0 0 1 466.1,1575.0" fill="none" stroke="#000" stroke-width="1.3"/>
<line x1="509.8" y1="1575.0" x2="537.6" y2="1602.7" stroke="#000" stroke-width="4"/>
<line x1="558.9" y1="1602.7" x2="587.2" y2="1575.0" stroke="#000" stroke-width="4"/>
<path d="M537.6,1602.7 A14.0,28.0 0 0 0 548.2,1575.0" fill="none" stroke="#000" stroke-width="1.3"/>
<path d="M558.9,1602.7 A14.0,28.0 0 0 1 548.2,1575.0" fill="none" stroke="#000" stroke-width="1.3"/>
<rect x="673.8" y="1528.5" width="5.4" height="73.1" rx="0" fill="none" stroke="#000" stroke-width="1.6"/>
<path d="M606.4,1532.0 A70.0,70.0 0 0 0 675.1,1601.8" fill="none" stroke="#000" stroke-width="1.8"/>
<line x1="409.0" y1="1589.0" x2="409.0" y2="1660.2" stroke="#000" stroke-width="1.6"/>
<rect x="421.5" y="1657.2" width="74.3" height="4.6" rx="0" fill="none" stroke="#000" stroke-width="1.6"/>
<path d="M495.0,1659.5 A72.0,71.0 0 0 0 423.5,1588.8" fill="none" stroke="#000" stroke-width="1.8"/>
<rect x="408.1" y="1660.2" width="15.4" height="402.0" fill="#000"/>
<rect x="411.0" y="1767.0" width="9.5" height="62.0" fill="#fff"/>
<rect x="408.0" y="1668.8" width="161.5" height="9.6" fill="#000"/>
<rect x="558.9" y="1668.8" width="10.6" height="63.9" fill="#000"/>
<line x1="423.5" y1="1701.8" x2="559.0" y2="1701.8" stroke="#000" stroke-width="1.6"/>
<line x1="570.5" y1="1701.8" x2="715.6" y2="1701.8" stroke="#000" stroke-width="1.6"/>
<rect x="571.7" y="1669.8" width="57.6" height="51.2" rx="0" fill="none" stroke="#000" stroke-width="2"/>
<rect x="629.3" y="1669.8" width="57.5" height="51.2" rx="0" fill="none" stroke="#000" stroke-width="2"/>
<rect x="637.1" y="1676.9" width="42.7" height="31.3" rx="3" fill="none" stroke="#000" stroke-width="2.4"/>
<rect x="571.7" y="1713.3" width="115.1" height="2.7" fill="#000"/>
<line x1="690.0" y1="1531.8" x2="690.0" y2="1702.0" stroke="#000" stroke-width="1.6"/>
<line x1="715.2" y1="1531.8" x2="715.2" y2="1702.0" stroke="#000" stroke-width="1.6"/>
<rect x="694.0" y="1537.6" width="37.4" height="48.8" rx="3" fill="none" stroke="#000" stroke-width="2.2"/>
<rect x="690.0" y="1531.8" width="47.0" height="60.2" rx="0" fill="none" stroke="#000" stroke-width="1.6"/>
<circle cx="712.5" cy="1560.0" r="2.0" fill="none" stroke="#000" stroke-width="1.5" />
<line x1="714.0" y1="1560.0" x2="733.0" y2="1560.0" stroke="#000" stroke-width="2.4"/>
<rect x="737.0" y="1520.3" width="11.7" height="216.7" fill="#000"/>
<rect x="408.0" y="1722.8" width="28.0" height="10.8" fill="#000"/>
<line x1="435.1" y1="1729.5" x2="477.7" y2="1775.9" stroke="#000" stroke-width="4.5"/>
<line x1="512.8" y1="1775.9" x2="555.5" y2="1729.5" stroke="#000" stroke-width="4.5"/>
<path d="M477.7,1775.9 A18.0,44.0 0 0 0 494.8,1732.3" fill="none" stroke="#000" stroke-width="1.3"/>
<path d="M512.8,1775.9 A18.0,44.0 0 0 1 494.8,1732.3" fill="none" stroke="#000" stroke-width="1.3"/>
<line x1="287.6" y1="1358.5" x2="408.5" y2="1358.5" stroke="#000" stroke-width="2"/>
<rect x="288.5" y="1359.0" width="10.1" height="12.4" rx="0" fill="none" stroke="#000" stroke-width="2"/>
<rect x="300.3" y="1360.6" width="8.7" height="8.8" rx="0" fill="none" stroke="#000" stroke-width="2"/>
<rect x="390.0" y="1360.6" width="7.4" height="8.8" rx="0" fill="none" stroke="#000" stroke-width="2"/>
<rect x="398.4" y="1359.0" width="10.1" height="12.4" rx="0" fill="none" stroke="#000" stroke-width="2"/>
<rect x="287.5" y="1371.4" width="3.8" height="155.4" fill="#000"/>
<line x1="298.2" y1="1371.4" x2="298.2" y2="1526.8" stroke="#000" stroke-width="2"/>
<line x1="318.5" y1="1320.8" x2="388.5" y2="1364.0" stroke="#000" stroke-width="5.0"/>
<line x1="318.5" y1="1320.8" x2="388.5" y2="1364.0" stroke="#fff" stroke-width="1.6"/>
<path d="M309.0,1359.0 A81.0,81.0 0 0 1 318.2,1320.5" fill="none" stroke="#000" stroke-width="1.8"/>
<line x1="316.0" y1="1321.0" x2="321.0" y2="1323.0" stroke="#000" stroke-width="3"/>
<rect x="323.0" y="1394.4" width="42.1" height="44.2" rx="0" fill="none" stroke="#000" stroke-width="1.8"/>
<circle cx="344.0" cy="1416.7" r="17.6" fill="none" stroke="#000" stroke-width="2.4" />
<circle cx="344.0" cy="1416.7" r="15.6" fill="none" stroke="#000" stroke-width="1.0" />
<circle cx="344.0" cy="1416.7" r="13.6" fill="none" stroke="#000" stroke-width="1.0" />
<circle cx="344.0" cy="1416.7" r="11.6" fill="none" stroke="#000" stroke-width="1.0" />
<circle cx="344.0" cy="1416.7" r="9.6" fill="none" stroke="#000" stroke-width="1.0" />
<circle cx="344.0" cy="1416.7" r="7.6" fill="none" stroke="#000" stroke-width="1.0" />
<circle cx="344.0" cy="1416.7" r="5.6" fill="none" stroke="#000" stroke-width="1.0" />
<circle cx="344.0" cy="1416.7" r="3.6" fill="none" stroke="#000" stroke-width="1.0" />
<circle cx="344.0" cy="1416.7" r="1.8" fill="none" stroke="#000" stroke-width="1.0" />
<line x1="326.0" y1="1416.7" x2="362.0" y2="1416.7" stroke="#000" stroke-width="1.6"/>
<line x1="344.0" y1="1398.2" x2="344.0" y2="1435.2" stroke="#000" stroke-width="1.5"/>
<rect x="323.0" y="1465.2" width="42.1" height="44.2" rx="0" fill="none" stroke="#000" stroke-width="1.8"/>
<circle cx="344.0" cy="1487.5" r="17.6" fill="none" stroke="#000" stroke-width="2.4" />
<circle cx="344.0" cy="1487.5" r="15.6" fill="none" stroke="#000" stroke-width="1.0" />
<circle cx="344.0" cy="1487.5" r="13.6" fill="none" stroke="#000" stroke-width="1.0" />
<circle cx="344.0" cy="1487.5" r="11.6" fill="none" stroke="#000" stroke-width="1.0" />
<circle cx="344.0" cy="1487.5" r="9.6" fill="none" stroke="#000" stroke-width="1.0" />
<circle cx="344.0" cy="1487.5" r="7.6" fill="none" stroke="#000" stroke-width="1.0" />
<circle cx="344.0" cy="1487.5" r="5.6" fill="none" stroke="#000" stroke-width="1.0" />
<circle cx="344.0" cy="1487.5" r="3.6" fill="none" stroke="#000" stroke-width="1.0" />
<circle cx="344.0" cy="1487.5" r="1.8" fill="none" stroke="#000" stroke-width="1.0" />
<line x1="326.0" y1="1487.5" x2="362.0" y2="1487.5" stroke="#000" stroke-width="1.6"/>
<line x1="344.0" y1="1469.0" x2="344.0" y2="1506.0" stroke="#000" stroke-width="1.5"/>
<rect x="397.6" y="1424.6" width="10.9" height="24.8" rx="0" fill="none" stroke="#000" stroke-width="1.8"/>
<rect x="397.6" y="1455.0" width="10.9" height="24.2" rx="0" fill="none" stroke="#000" stroke-width="1.8"/>
<path d="M397.6,1443 L392.5,1443 L392.5,1434" fill="none" stroke="#000" stroke-width="2.6"/>
<circle cx="394.5" cy="1467.0" r="3.8" fill="none" stroke="#000" stroke-width="2.2" />
<rect x="286.0" y="1526.8" width="23.9" height="21.4" fill="#000"/>
<rect x="400.0" y="1526.8" width="8.5" height="21.4" fill="#000"/>
<rect x="309.9" y="1526.2" width="90.1" height="2.8" fill="#000"/>
<rect x="309.9" y="1531.8" width="90.1" height="3.0" fill="#000"/>
<line x1="309.9" y1="1541.6" x2="400.0" y2="1541.6" stroke="#000" stroke-width="2"/>
<rect x="286.8" y="1548.0" width="3.5" height="153.2" fill="#000"/>
<line x1="294.0" y1="1548.0" x2="294.0" y2="1701.2" stroke="#000" stroke-width="2"/>
<line x1="301.6" y1="1548.0" x2="301.6" y2="1701.2" stroke="#000" stroke-width="2"/>
<rect x="286.0" y="1701.2" width="23.9" height="21.5" fill="#000"/>
<rect x="400.0" y="1701.2" width="8.5" height="21.5" fill="#000"/>
<rect x="309.9" y="1719.6" width="98.1" height="3.1" fill="#000"/>
<line x1="288.0" y1="1742.8" x2="408.0" y2="1742.8" stroke="#000" stroke-width="2"/>
<line x1="288.0" y1="1763.0" x2="408.0" y2="1763.0" stroke="#000" stroke-width="2"/>
<line x1="288.0" y1="1782.8" x2="408.0" y2="1782.8" stroke="#000" stroke-width="2"/>
<line x1="288.0" y1="1803.7" x2="408.0" y2="1803.7" stroke="#000" stroke-width="2"/>
<line x1="288.0" y1="1823.2" x2="408.0" y2="1823.2" stroke="#000" stroke-width="2"/>
<line x1="288.0" y1="1843.8" x2="408.0" y2="1843.8" stroke="#000" stroke-width="2"/>
<line x1="288.1" y1="1722.7" x2="288.1" y2="1843.8" stroke="#000" stroke-width="2"/>
<line x1="294.0" y1="1722.7" x2="294.0" y2="1827.3" stroke="#000" stroke-width="2"/>
<line x1="301.6" y1="1722.7" x2="301.6" y2="1827.3" stroke="#000" stroke-width="2"/>
<rect x="291.6" y="1827.5" width="12.8" height="12.8" rx="0" fill="none" stroke="#000" stroke-width="2"/>
<rect x="408.0" y="2048.0" width="490.5" height="14.3" fill="#000"/>
<rect x="509.0" y="2050.8" width="62.6" height="8.5" fill="#fff"/>
<rect x="737.0" y="2050.4" width="61.0" height="9.1" fill="#fff"/>
<rect x="709.4" y="1734.0" width="10.6" height="25.0" fill="#000"/>
<rect x="709.4" y="1820.5" width="10.6" height="35.0" fill="#000"/>
<rect x="709.4" y="1910.3" width="10.6" height="151.7" fill="#000"/>
<rect x="645.0" y="1757.2" width="66.6" height="3.6" rx="0" fill="none" stroke="#000" stroke-width="1.6"/>
<path d="M645.0,1760.5 A66.5,62.0 0 0 0 711.6,1822.4" fill="none" stroke="#000" stroke-width="1.8"/>
<rect x="720.0" y="1833.7" width="12.0" height="9.1" fill="#000"/>
<line x1="731.9" y1="1840.5" x2="772.4" y2="1882.2" stroke="#000" stroke-width="4.6"/>
<line x1="731.9" y1="1840.5" x2="772.4" y2="1882.2" stroke="#fff" stroke-width="1.3"/>
<path d="M772.4,1882.3 A45.0,46.0 0 0 0 787.2,1842.8" fill="none" stroke="#000" stroke-width="1.6"/>
<line x1="717.6" y1="1855.3" x2="758.7" y2="1894.8" stroke="#000" stroke-width="4.6"/>
<line x1="717.6" y1="1855.3" x2="758.7" y2="1894.8" stroke="#fff" stroke-width="1.3"/>
<path d="M758.7,1894.8 A40.0,45.0 0 0 1 735.7,1906.9" fill="none" stroke="#000" stroke-width="1.6"/>
<rect x="815.1" y="1842.0" width="10.5" height="131.7" fill="#000"/>
<rect x="815.1" y="1962.7" width="82.9" height="11.0" fill="#000"/>
<rect x="884.1" y="1833.4" width="14.4" height="228.9" fill="#000"/>
<rect x="897.6" y="2019.0" width="9.1" height="23.6" fill="#000"/>
<rect x="825.8" y="1843.8" width="58.3" height="118.9" rx="0" fill="none" stroke="#000" stroke-width="1.4"/>
<path d="M827.8,1938 L827.8,1852 Q827.8,1848 832,1848 L878.5,1848 Q882.4,1848 882.4,1852 L882.4,1938" fill="none" stroke="#000" stroke-width="2.2"/>
<path d="M827.8,1930 C827.8,1952 832,1958.4 840,1958.4 L870,1958.4 C879,1958.4 882.4,1952 882.4,1930" fill="none" stroke="#000" stroke-width="1.8"/>
<path d="M830.2,1926 C830.2,1944 834,1948.5 842,1948.5 L868,1948.5 C876,1948.5 879.3,1944 879.3,1926" fill="none" stroke="#000" stroke-width="1.8"/>
<line x1="842.5" y1="1973.7" x2="842.5" y2="2047.5" stroke="#000" stroke-width="2"/>
<line x1="842.5" y1="1977.0" x2="817.3" y2="2001.1" stroke="#000" stroke-width="4"/>
<line x1="817.3" y1="2019.7" x2="842.5" y2="2043.9" stroke="#000" stroke-width="4"/>
<path d="M817.3,2001.1 Q830,2010.4 840.9,2010.4" fill="none" stroke="#000" stroke-width="1.4"/>
<path d="M817.3,2019.7 Q830,2010.4 840.9,2010.4" fill="none" stroke="#000" stroke-width="1.4"/>
<path d="M720.3,1997.8 L735.5,1997.8 L735.8,2001 L737.9,2003 L737.9,2036 L735.8,2038 L735.5,2041.1 L720.3,2041.1" fill="none" stroke="#000" stroke-width="1.8"/>
<ellipse cx="759.3" cy="2019.2" rx="17.3" ry="15.2" fill="none" stroke="#000" stroke-width="1.8"/>
<ellipse cx="737.9" cy="1944.1" rx="14.8" ry="16.3" fill="none" stroke="#000" stroke-width="2.2"/>
<ellipse cx="737.5" cy="1946" rx="11.5" ry="12.5" fill="none" stroke="#000" stroke-width="1.4"/>
<ellipse cx="730.8" cy="1933.2" rx="5.2" ry="3.2" transform="rotate(-35 730.8 1933.2)" fill="none" stroke="#000" stroke-width="1.8"/>
<line x1="727.5" y1="1935.5" x2="733.5" y2="1930.5" stroke="#000" stroke-width="1.4"/>
<line x1="720.0" y1="1952.4" x2="815.2" y2="1952.4" stroke="#000" stroke-width="1.5"/>
<line x1="825.5" y1="1952.4" x2="884.1" y2="1952.4" stroke="#000" stroke-width="1.5"/>
<rect x="1461.0" y="1602.4" width="23.0" height="9.3" fill="#000"/>
<rect x="1466.8" y="1611.0" width="3.0" height="213.6" fill="#000"/>
<line x1="1476.5" y1="1611.0" x2="1476.5" y2="1824.6" stroke="#000" stroke-width="2"/>
<rect x="1481.0" y="1611.0" width="3.0" height="213.6" fill="#000"/>
<rect x="1461.0" y="1824.6" width="23.0" height="23.2" fill="#000"/>
<line x1="1484.0" y1="1825.6" x2="1509.6" y2="1825.6" stroke="#000" stroke-width="2.2"/>
<line x1="1484.0" y1="1833.7" x2="1509.6" y2="1833.7" stroke="#000" stroke-width="2"/>
<line x1="1484.0" y1="1840.5" x2="1509.6" y2="1840.5" stroke="#000" stroke-width="2"/>
<rect x="1509.6" y="1824.5" width="23.2" height="23.3" fill="#000"/>
<line x1="1516.6" y1="1847.0" x2="1516.6" y2="2068.0" stroke="#000" stroke-width="2.2"/>
<line x1="1523.5" y1="1847.0" x2="1523.5" y2="2068.0" stroke="#000" stroke-width="2"/>
<rect x="1530.0" y="1847.0" width="3.2" height="221.0" fill="#000"/>
<rect x="1509.8" y="2068.0" width="22.8" height="23.5" fill="#000"/>
<line x1="1288.9" y1="2077.3" x2="1509.8" y2="2077.3" stroke="#000" stroke-width="2"/>
<line x1="1288.9" y1="2083.9" x2="1509.8" y2="2083.9" stroke="#000" stroke-width="2"/>
<rect x="1288.9" y="2088.0" width="220.9" height="3.2" fill="#000"/>
<rect x="1266.1" y="2068.0" width="22.8" height="23.5" fill="#000"/>
<line x1="1269.2" y1="2041.8" x2="1269.2" y2="2068.0" stroke="#000" stroke-width="2"/>
<line x1="1276.0" y1="2041.8" x2="1276.0" y2="2068.0" stroke="#000" stroke-width="2"/>
<line x1="1283.2" y1="2041.8" x2="1283.2" y2="2068.0" stroke="#000" stroke-width="2.2"/>
<rect x="1266.1" y="2019.0" width="22.8" height="22.8" fill="#000"/>
<rect x="1099.8" y="2025.4" width="166.3" height="3.0" fill="#000"/>
<line x1="1099.8" y1="2033.8" x2="1266.1" y2="2033.8" stroke="#000" stroke-width="2"/>
<line x1="1099.8" y1="2041.2" x2="1266.1" y2="2041.2" stroke="#000" stroke-width="2"/>
<rect x="1077.6" y="2019.0" width="22.2" height="22.8" fill="#000"/>
<rect x="906.7" y="2039.8" width="170.9" height="3.0" fill="#000"/>
<path d="M880.3,2062.3 L880.3,2163.1 L1099.4,2163.1 L1099.4,2042.4" fill="none" stroke="#000" stroke-width="2"/>
<line x1="880.3" y1="2061.9" x2="1099.4" y2="2061.9" stroke="#000" stroke-width="2"/>
<line x1="880.3" y1="2081.9" x2="1099.4" y2="2081.9" stroke="#000" stroke-width="2"/>
<line x1="880.3" y1="2102.0" x2="1099.4" y2="2102.0" stroke="#000" stroke-width="2"/>
<line x1="880.3" y1="2122.8" x2="1099.4" y2="2122.8" stroke="#000" stroke-width="2"/>
<line x1="880.3" y1="2142.7" x2="1099.4" y2="2142.7" stroke="#000" stroke-width="2"/>
<line x1="887.2" y1="2062.0" x2="887.2" y2="2146.3" stroke="#000" stroke-width="2"/>
<line x1="895.2" y1="2062.0" x2="895.2" y2="2146.3" stroke="#000" stroke-width="2"/>
<line x1="1084.4" y1="2042.4" x2="1084.4" y2="2146.3" stroke="#000" stroke-width="2"/>
<line x1="1093.0" y1="2042.4" x2="1093.0" y2="2146.3" stroke="#000" stroke-width="2"/>
<rect x="885.3" y="2147.0" width="12.5" height="11.6" rx="0" fill="none" stroke="#000" stroke-width="2.2"/>
<rect x="1082.4" y="2147.0" width="12.5" height="11.6" rx="0" fill="none" stroke="#000" stroke-width="2.2"/>
<rect x="882.4" y="2042.4" width="16.0" height="19.9" fill="#000"/>
<line x1="350.1" y1="458.3" x2="557.7" y2="458.3" stroke="#000" stroke-width="1.5"/>
<line x1="535.0" y1="962.2" x2="722.0" y2="962.2" stroke="#000" stroke-width="1.5"/>
<line x1="849.0" y1="874.2" x2="1293.4" y2="874.2" stroke="#000" stroke-width="1.5"/>
<line x1="780.3" y1="1257.2" x2="1109.8" y2="1257.2" stroke="#000" stroke-width="1.5"/>
<line x1="1230.2" y1="1336.3" x2="1409.6" y2="1336.3" stroke="#000" stroke-width="1.5"/>
<line x1="512.0" y1="1646.4" x2="647.8" y2="1646.4" stroke="#000" stroke-width="1.5"/>
<line x1="1126.0" y1="1745.5" x2="1267.8" y2="1745.5" stroke="#000" stroke-width="1.5"/>
<line x1="1110.6" y1="1940.8" x2="1279.5" y2="1940.8" stroke="#000" stroke-width="1.5"/>
<line x1="468.0" y1="1903.9" x2="655.9" y2="1903.9" stroke="#000" stroke-width="1.5"/>
<text x="349.7" y="446.1" font-size="52.66" font-weight="normal" letter-spacing="0.00" stroke="#000" stroke-width="1.2" stroke-linejoin="round" textLength="209.3" lengthAdjust="spacingAndGlyphs">GARAGE</text>
<text x="348.8" y="491.3" font-size="33.53" font-weight="normal" letter-spacing="1.17" stroke="#000" stroke-width="1.45" stroke-linejoin="round" textLength="209.2" lengthAdjust="spacingAndGlyphs">23'-0&quot; x 23'-0&quot;</text>
<text x="534.8" y="948.8" font-size="50.39" font-weight="normal" letter-spacing="0.00" stroke="#000" stroke-width="1.2" stroke-linejoin="round" textLength="186.2" lengthAdjust="spacingAndGlyphs">BRKFST</text>
<text x="531.9" y="994.3" font-size="32.44" font-weight="normal" letter-spacing="1.14" stroke="#000" stroke-width="1.45" stroke-linejoin="round" textLength="194.2" lengthAdjust="spacingAndGlyphs">9'-4&quot; x 15'-6&quot;</text>
<text x="849.2" y="860.8" font-size="51.10" font-weight="normal" letter-spacing="0.00" stroke="#000" stroke-width="1.2" stroke-linejoin="round" textLength="443.9" lengthAdjust="spacingAndGlyphs">SCREENED PORCH</text>
<text x="1002.9" y="906.8" font-size="33.21" font-weight="normal" letter-spacing="1.16" stroke="#000" stroke-width="1.45" stroke-linejoin="round" textLength="139.2" lengthAdjust="spacingAndGlyphs">10' DEEP</text>
<text x="778.5" y="1245.1" font-size="50.81" font-weight="normal" letter-spacing="0.00" stroke="#000" stroke-width="1.2" stroke-linejoin="round" textLength="331.3" lengthAdjust="spacingAndGlyphs">GREAT ROOM</text>
<text x="840.0" y="1290.3" font-size="30.29" font-weight="normal" letter-spacing="1.06" stroke="#000" stroke-width="1.45" stroke-linejoin="round" textLength="208.1" lengthAdjust="spacingAndGlyphs">16'-0&quot; x 20'-0&quot;</text>
<text x="1230.2" y="1323.1" font-size="51.46" font-weight="normal" letter-spacing="0.00" stroke="#000" stroke-width="1.2" stroke-linejoin="round" textLength="180.2" lengthAdjust="spacingAndGlyphs">DINING</text>
<text x="1215.2" y="1369.1" font-size="33.21" font-weight="normal" letter-spacing="1.16" stroke="#000" stroke-width="1.45" stroke-linejoin="round" textLength="209.6" lengthAdjust="spacingAndGlyphs">13'-6&quot; x 19'-0&quot;</text>
<text x="471.5" y="1331.3" font-size="51.16" font-weight="normal" letter-spacing="0.00" stroke="#000" stroke-width="1.2" stroke-linejoin="round" textLength="215.4" lengthAdjust="spacingAndGlyphs">KITCHEN</text>
<text x="473.7" y="1377.3" font-size="35.00" font-weight="normal" letter-spacing="1.22" stroke="#000" stroke-width="1.45" stroke-linejoin="round" textLength="210.1" lengthAdjust="spacingAndGlyphs">13'-0&quot; x 16'-2&quot;</text>
<text x="513.2" y="1633.3" font-size="50.06" font-weight="normal" letter-spacing="0.00" stroke="#000" stroke-width="1.2" stroke-linejoin="round" textLength="132.8" lengthAdjust="spacingAndGlyphs">MUD.</text>
<text x="1119.0" y="1685.6" font-size="49.33" font-weight="normal" letter-spacing="0.00" stroke="#000" stroke-width="1.2" stroke-linejoin="round" textLength="119.9" lengthAdjust="spacingAndGlyphs">DEN/</text>
<text x="1090.7" y="1731.3" font-size="51.82" font-weight="normal" letter-spacing="0.00" stroke="#000" stroke-width="1.2" stroke-linejoin="round" textLength="177.9" lengthAdjust="spacingAndGlyphs">OFFICE</text>
<text x="1083.1" y="1776.8" font-size="32.44" font-weight="normal" letter-spacing="1.14" stroke="#000" stroke-width="1.45" stroke-linejoin="round" textLength="193.2" lengthAdjust="spacingAndGlyphs">8'-8&quot; x 11'-4&quot;</text>
<text x="1111.0" y="1928.0" font-size="51.04" font-weight="normal" letter-spacing="0.00" stroke="#000" stroke-width="1.2" stroke-linejoin="round" textLength="168.7" lengthAdjust="spacingAndGlyphs">PORCH</text>
<text x="1133.8" y="1973.6" font-size="31.76" font-weight="normal" letter-spacing="1.11" stroke="#000" stroke-width="1.45" stroke-linejoin="round" textLength="124.6" lengthAdjust="spacingAndGlyphs">8' DEEP</text>
<text x="467.7" y="1890.8" font-size="51.94" font-weight="normal" letter-spacing="0.00" stroke="#000" stroke-width="1.2" stroke-linejoin="round" textLength="187.5" lengthAdjust="spacingAndGlyphs">BDRM.4</text>
<text x="449.9" y="1937.3" font-size="33.21" font-weight="normal" letter-spacing="1.16" stroke="#000" stroke-width="1.45" stroke-linejoin="round" textLength="225.5" lengthAdjust="spacingAndGlyphs">11'-10&quot; x 13'-0&quot;</text>
<text x="714.0" y="1939.8" font-size="50.81" font-weight="normal" letter-spacing="0.00" stroke="#000" stroke-width="1.2" stroke-linejoin="round" textLength="168.4" lengthAdjust="spacingAndGlyphs">BATH 3</text>
<rect x="816.8" y="1855.9" width="6.6" height="98.1" fill="#fff"/>
</svg></body></html>
